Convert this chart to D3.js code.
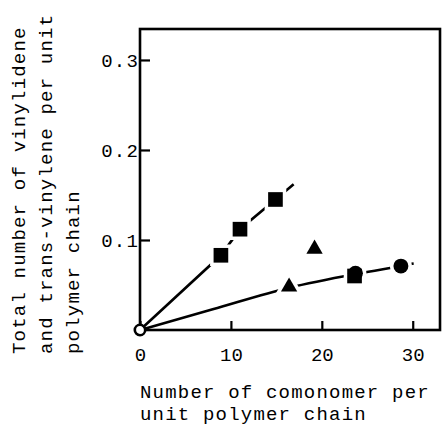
<!DOCTYPE html>
<html>
<head>
<meta charset="utf-8">
<script src="https://cdn.jsdelivr.net/npm/d3@7"></script>
<style>
  body { margin: 0; background: #fff; }
  text { font-family: "Liberation Mono", "Courier New", monospace; fill: #000; }
</style>
</head>
<body>
<div id="chart"></div>
<script>
// values
const squares = [[8.9, 0.083], [11.0, 0.112], [14.9, 0.145], [23.6, 0.060]];
const triangles = [[16.4, 0.048], [19.2, 0.090]];
const circles = [[23.7, 0.063], [28.7, 0.071]];
const origin = [[0, 0]];
const steepLine = [[0, 0], [8.9, 0.083], [11.0, 0.112], [14.9, 0.145], [16.9, 0.162]];
const flatLine = [[0, 0], [8, 0.023], [16.4, 0.047], [23.6, 0.062], [28.7, 0.071], [30.1, 0.074]];
const xTicks = [0, 10, 20, 30];
const yTicks = [0.1, 0.2, 0.3];
const yTitle = ["Total number of vinylidene", "and trans-vinylene per unit", "polymer chain"];
const xTitle = ["Number of comonomer per", "unit polymer chain"];

const W = 442, H = 428;
const margin = {top: 29, right: 2, bottom: 98, left: 140},
  width = W - margin.left - margin.right,
  height = H - margin.top - margin.bottom;

// thinner glyphs than 21px, same 12.6px advance
const fontSize = "19px", spacing = "1.2px";

const svg = d3.select("#chart")
  .append("svg")
    .attr("width", W)
    .attr("height", H)
  .append("g")
    .attr("transform", "translate(" + margin.left + "," + margin.top + ")");

let x = d3.scaleLinear().domain([0, 33]).range([0, width]);
let y = d3.scaleLinear().domain([0, 0.3344]).range([height, 0]);

// x axis, ticks pointing inward
const xAxis = svg.append("g")
  .attr("transform", "translate(0," + height + ")")
  .call(d3.axisBottom(x).tickValues(xTicks).tickSizeInner(-9).tickSizeOuter(0).tickPadding(18)
    .tickFormat(d3.format("d")));
xAxis.select(".domain").remove();
xAxis.selectAll("line").attr("stroke", "#000").attr("stroke-width", 2.2);
xAxis.selectAll("text").style("font-size", fontSize).attr("dy", "0.71em").attr("fill", "#000");

// y axis
const yAxis = svg.append("g")
  .call(d3.axisLeft(y).tickValues(yTicks).tickSizeInner(-10).tickSizeOuter(0).tickPadding(1)
    .tickFormat(d3.format(".1f")));
yAxis.select(".domain").remove();
yAxis.selectAll("line").attr("stroke", "#000").attr("stroke-width", 2.2);
yAxis.selectAll("text").style("font-size", fontSize).style("letter-spacing", spacing)
  .attr("dy", "0.35em").attr("fill", "#000");

// frame
svg.append("rect")
  .attr("x", 0).attr("y", 0)
  .attr("width", width).attr("height", height)
  .attr("fill", "none").attr("stroke", "#000").attr("stroke-width", 2.6);

// lines
const line = d3.line().x(d => x(d[0])).y(d => y(d[1]));
svg.append("path").datum(steepLine)
  .attr("d", line).attr("fill", "none").attr("stroke", "#000").attr("stroke-width", 2.6);
svg.append("path").datum(flatLine)
  .attr("d", line.curve(d3.curveMonotoneX)).attr("fill", "none").attr("stroke", "#000").attr("stroke-width", 2.6);

// markers: white halo first, then black shapes
const sq = d3.symbol().type(d3.symbolSquare).size(215);
const tri = d3.symbol().type(d3.symbolTriangle).size(115);
const cir = d3.symbol().type(d3.symbolCircle).size(175);

function markers(data, sym, halo) {
  svg.selectAll(null)
    .data(data)
    .enter()
    .append("path")
      .attr("d", sym)
      .attr("transform", d => "translate(" + x(d[0]) + "," + y(d[1]) + ")")
      .attr("fill", halo ? "#fff" : "#000")
      .attr("stroke", halo ? "#fff" : "none")
      .attr("stroke-width", halo ? 7 : 0);
}
markers(squares, sq, true);
markers(triangles, tri, true);
markers(circles, cir, true);
markers(squares, sq, false);
markers(triangles, tri, false);
markers(circles, cir, false);

svg.selectAll("originPt")
  .data(origin)
  .enter()
  .append("circle")
    .attr("cx", d => x(d[0]))
    .attr("cy", d => y(d[1]))
    .attr("r", 5.2)
    .attr("fill", "#fff")
    .attr("stroke", "#000")
    .attr("stroke-width", 2.6);

// axis titles
svg.append("g")
  .selectAll("text")
  .data(xTitle)
  .enter()
  .append("text")
    .attr("x", 0)
    .attr("y", (d, i) => height + 68 + i * 22)
    .style("font-size", fontSize)
    .style("letter-spacing", spacing)
    .text(d => d);

svg.append("g")
  .selectAll("text")
  .data(yTitle)
  .enter()
  .append("text")
    .attr("transform", (d, i) => "translate(" + (-115 + i * 27) + "," + (height + 24) + ") rotate(-90)")
    .style("font-size", fontSize)
    .style("letter-spacing", spacing)
    .text(d => d);
</script>
</body>
</html>
